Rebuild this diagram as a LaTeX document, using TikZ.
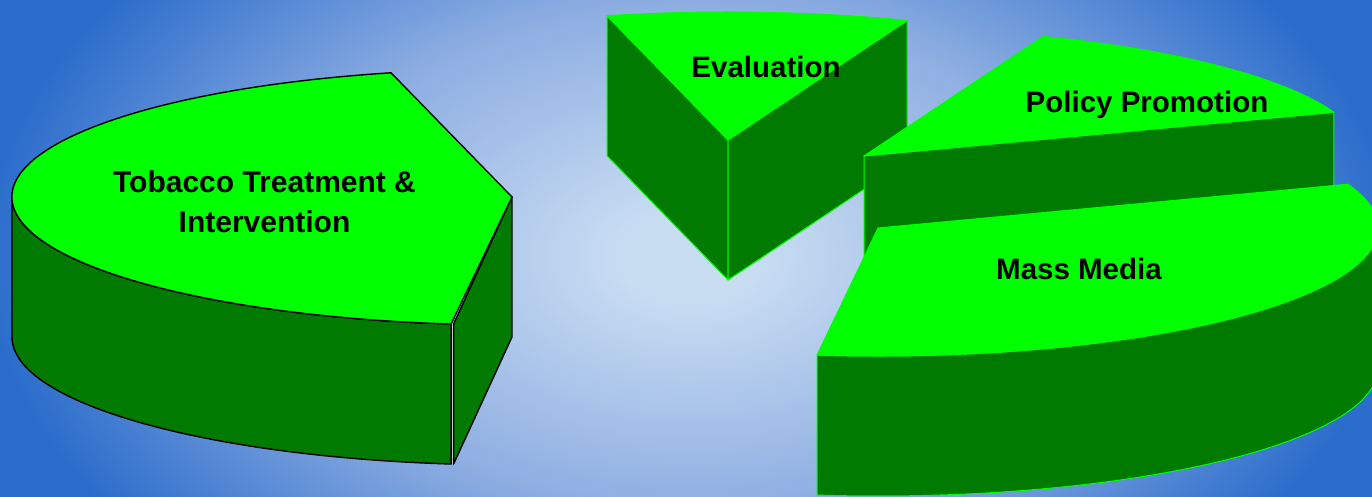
\documentclass[tikz,border=0pt]{standalone}
\usepackage{fontspec}
\setmainfont{Liberation Sans}
\usetikzlibrary{calc}
\definecolor{bgc}{HTML}{C8DCF2}
\definecolor{bgm}{HTML}{8EAEE2}
\definecolor{bge}{HTML}{2B6DCB}
\definecolor{topg}{HTML}{00FF00}
\definecolor{sideg}{HTML}{007A00}
\pgfdeclareradialshading{bgshade}{\pgfpoint{0bp}{0bp}}{color(0bp)=(bgc); color(5bp)=(bgc); color(28bp)=(bgm); color(50bp)=(bge); color(100bp)=(bge)}
\tikzset{
  topT/.style={fill=topg, draw=black, line width=1.4pt, line join=round},
  sideT/.style={fill=sideg, draw=black, line width=1.4pt, line join=round},
  topG/.style={fill=topg, draw=topg, line width=1pt, line join=round},
  sideG/.style={fill=sideg, draw=topg, line width=1pt, line join=round},
  lbl/.style={font=\fontsize{29.5}{40}\selectfont\bfseries, text=black, inner sep=0pt, align=center}
}
\begin{document}
\begin{tikzpicture}[x=1pt,y=1pt]
\useasboundingbox (0,0) rectangle (1372,497);
\begin{scope}
\clip (0,0) rectangle (1372,497);
\fill[bge] (0,0) rectangle (1372,497);
\begin{scope}
\pgftransformshift{\pgfpoint{690pt}{240pt}}
\pgftransformxscale{14}
\pgftransformyscale{9}
\pgflowlevelsynccm
\pgfuseshading{bgshade}
\end{scope}
% ---------- Evaluation slice ----------
\coordinate (ec) at (728,357);
\coordinate (e1) at ($(ec)+(69:500pt and 128pt)$);
\coordinate (e2) at ($(ec)+(104:500pt and 128pt)$);
\filldraw[sideG] (ec) -- (e2) -- ($(e2)+(0,-140)$) -- ($(ec)+(0,-140)$) -- cycle;
\filldraw[sideG] (ec) -- (e1) -- ($(e1)+(0,-140)$) -- ($(ec)+(0,-140)$) -- cycle;
\filldraw[topG] (ec) -- (e1) arc[start angle=69, end angle=104, x radius=500pt, y radius=128pt] -- cycle;
% ---------- Policy Promotion slice ----------
\coordinate (pc) at (864,341);
\coordinate (p1) at ($(pc)+(20:500pt and 128pt)$);
\filldraw[sideG] (pc) -- (p1) -- ($(p1)+(0,-140)$) -- ($(pc)+(0,-140)$) -- cycle;
\filldraw[topG] (pc) -- (p1) arc[start angle=20, end angle=69, x radius=500pt, y radius=128pt] -- cycle;
% ---------- Mass Media slice ----------
\coordinate (mc) at (878,269);
\coordinate (m1) at ($(mc)+(263:500pt and 128pt)$);
\filldraw[sideG] (m1) arc[start angle=263, end angle=360, x radius=500pt, y radius=128pt] -- ++(0,-140) arc[start angle=360, end angle=263, x radius=500pt, y radius=128pt] -- cycle;
\filldraw[topG] (mc) -- (m1) arc[start angle=263, end angle=380, x radius=500pt, y radius=128pt] -- cycle;
% ---------- Tobacco slice ----------
\coordinate (tc) at (512,300);
\coordinate (t1) at ($(tc)+(104:500pt and 128pt)$);
\coordinate (t2) at ($(tc)+(263:500pt and 128pt)$);
\coordinate (t0) at ($(tc)+(180:500pt and 128pt)$);
\filldraw[sideT] (t0) arc[start angle=180, end angle=263, x radius=500pt, y radius=128pt] -- ++(0,-140) arc[start angle=263, end angle=180, x radius=500pt, y radius=128pt] -- cycle;
\filldraw[sideT] ([xshift=2.5pt]t2) -- (tc) -- ($(tc)+(0,-140)$) -- ($(t2)+(2.5,-140)$) -- cycle;
\draw[gray!45, line width=0.9pt] ([xshift=1.3pt]t2) -- ($(t2)+(1.3,-140)$);
\filldraw[topT] (tc) -- (t1) arc[start angle=104, end angle=263, x radius=500pt, y radius=128pt] -- cycle;
\end{scope}
% ---------- labels ----------
\node[lbl, font=\fontsize{30}{40}\selectfont\bfseries] (ltob) at (264.5,295) {Tobacco Treatment \&\\Intervention};
\node[lbl, anchor=base] (leval) at (766,419) {Evaluation};
\node[lbl, anchor=base] (lpol) at (1147,384) {Policy Promotion};
\node[lbl, anchor=base] (lmass) at (1079,217) {Mass Media};
\end{tikzpicture}
\end{document}
